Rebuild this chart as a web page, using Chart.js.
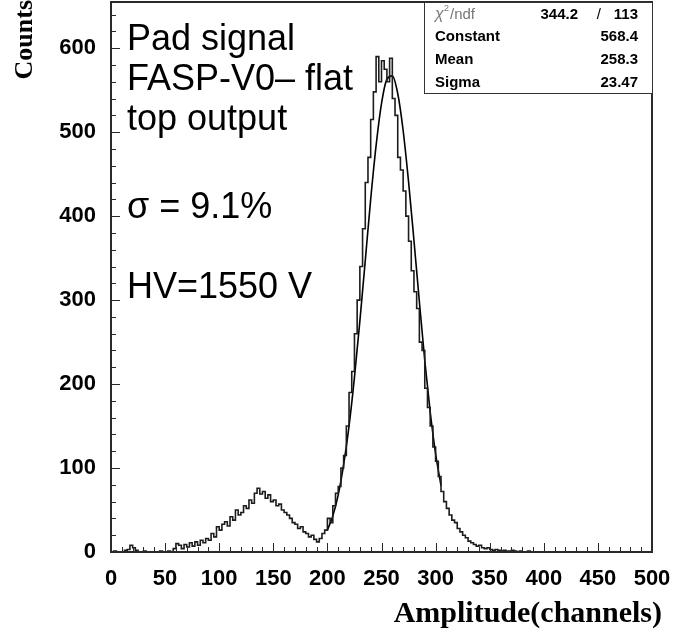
<!DOCTYPE html>
<html>
<head>
<meta charset="utf-8">
<script src="https://cdn.jsdelivr.net/npm/chart.js@4/dist/chart.umd.min.js"></script>
<style>
  html, body { margin: 0; padding: 0; background: #fff; }
  #wrap { width: 682px; height: 635px; }
</style>
</head>
<body>
<div id="wrap"><canvas id="spectrum" width="682" height="635"></canvas></div>
<script>
// histogram: counts per 2.5-channel bin, starting at channel 0
const binWidth = 2.5;
const counts = [
  0, 0, 1, 0, 0, 0, 2, 3, 8, 5, 2, 0, 0, 1, 0, 0, 0, 0, 0, 1,                 // 0-47.5
  0, 0, 1, 0, 4, 10, 8, 4, 9, 6, 11, 7, 12, 8, 14, 11, 16, 14, 22, 18,         // 50-97.5
  30, 26, 33, 36, 31, 42, 38, 50, 44, 47, 55, 52, 62, 58, 70, 76, 69, 72, 64, 68, // 100-147.5
  60, 62, 55, 57, 50, 47, 44, 40, 35, 33, 28, 30, 24, 22, 18, 20, 15, 12, 16, 22, // 150-197.5
  26, 40, 35, 55, 70, 78, 100, 115, 150, 190, 215, 260, 300, 340, 385, 440, 470, 515, 548, 590, // 200-247.5
  560, 585, 575, 560, 588, 540, 520, 470, 455, 430, 400, 370, 335, 310, 290, 250, 240, 195, 172, 150, // 250-297.5
  125, 108, 90, 72, 60, 52, 44, 38, 35, 28, 24, 20, 17, 13, 11, 9, 7, 8, 5, 4, // 300-347.5
  5, 3, 2, 3, 2, 1, 2, 1, 1, 2, 1, 0, 1, 0, 0, 1, 0, 0, 0, 0,                  // 350-397.5
  0, 0, 0, 0, 0, 0, 0, 0, 0, 0, 0, 0, 0, 0, 0, 0, 0, 0, 0, 0,                  // 400-447.5
  0, 0, 0, 0, 0, 0, 0, 0, 0, 0, 0, 0, 0, 0, 0, 0, 0, 0, 0, 0                   // 450-497.5
];

// gaussian fit curve as drawn
const fitX = [200, 205, 210, 215, 220, 225, 230, 235, 240, 245, 250, 255, 260, 265, 270, 275, 280, 285, 290, 295, 300, 305];
const fitY = [26, 43, 68, 104, 150, 208, 275, 347, 420, 484, 534, 563, 567, 546, 502, 441, 371, 298, 228, 167, 117, 79];

const statRows = [
  ['Constant', '568.4'],
  ['Mean', '258.3'],
  ['Sigma', '23.47']
];
const chi2 = '344.2';
const ndf = '113';

const notes = ['Pad signal', 'FASP-V0\u2013 flat', 'top output', '\u03c3 = 9.1%', 'HV=1550 V'];

const xMajor = 50, xMinor = 10, yMajor = 100, yMinor = 20;

const histPoints = counts.map((c, i) => ({ x: i * binWidth, y: c }));
histPoints.push({ x: counts.length * binWidth, y: counts[counts.length - 1] });
const fitPoints = fitX.map((x, i) => ({ x, y: fitY[i] }));

const sans = '"Liberation Sans", Arial, sans-serif';
const serif = '"Liberation Serif", "Times New Roman", serif';

const decorations = {
  id: 'decorations',
  afterDraw(chart) {
    const { ctx, chartArea: a, scales: { x, y } } = chart;
    ctx.save();

    // frame
    ctx.strokeStyle = '#2a2a2a';
    ctx.lineWidth = 2;
    ctx.strokeRect(a.left, a.top, a.right - a.left, a.bottom - a.top);

    // inward ticks
    ctx.lineWidth = 1;
    ctx.beginPath();
    for (let v = 0; v <= x.max; v += xMinor) {
      const px = Math.round(x.getPixelForValue(v)) + 0.5;
      const len = v % xMajor === 0 ? 9 : 5;
      ctx.moveTo(px, a.bottom);
      ctx.lineTo(px, a.bottom - len);
    }
    for (let v = 0; v <= y.max; v += yMinor) {
      const py = Math.round(y.getPixelForValue(v)) + 0.5;
      const len = v % yMajor === 0 ? 9 : 5;
      ctx.moveTo(a.left, py);
      ctx.lineTo(a.left + len, py);
    }
    ctx.stroke();

    // stats box
    const bx = 424, by = a.top, bw = a.right - 424, bh = 91;
    ctx.fillStyle = '#fff';
    ctx.fillRect(bx, by, bw, bh);
    ctx.strokeStyle = '#333';
    ctx.lineWidth = 1;
    ctx.strokeRect(bx + 0.5, by + 0.5, bw, bh);
    ctx.textBaseline = 'middle';
    ctx.fillStyle = '#777';
    ctx.textAlign = 'left';
    ctx.font = 'italic 16px ' + sans;
    ctx.fillText('\u03c7', 435, 15);
    ctx.font = '9px ' + sans;
    ctx.fillText('2', 444, 9);
    ctx.font = '15px ' + sans;
    ctx.fillText('/ndf', 450, 15);
    ctx.fillStyle = '#000';
    ctx.font = 'bold 15px ' + sans;
    ctx.textAlign = 'right';
    ctx.fillText(chi2, 578, 15);
    ctx.font = '15px ' + sans;
    ctx.fillText('/', 601, 15);
    ctx.font = 'bold 15px ' + sans;
    ctx.fillText(ndf, 638, 15);
    statRows.forEach((r, i) => {
      const ry = 37 + i * 23;
      ctx.textAlign = 'left';
      ctx.fillText(r[0], 435, ry);
      ctx.textAlign = 'right';
      ctx.fillText(r[1], 638, ry);
    });

    // annotations
    ctx.textAlign = 'left';
    ctx.textBaseline = 'alphabetic';
    ctx.font = '36px ' + sans;
    const baselines = [50, 90, 130, 218, 298];
    notes.forEach((t, i) => ctx.fillText(t, 127, baselines[i]));

    // axis titles
    ctx.font = 'bold 30px ' + serif;
    ctx.textAlign = 'right';
    ctx.fillText('Amplitude(channels)', 662, 622);
    ctx.font = 'bold 26px ' + serif;
    ctx.translate(32, 0);
    ctx.rotate(-Math.PI / 2);
    ctx.fillText('Counts', 0, 0);
    ctx.restore();
  }
};

new Chart(document.getElementById('spectrum').getContext('2d'), {
  type: 'line',
  data: {
    datasets: [
      {
        label: 'Amplitude',
        data: histPoints,
        stepped: 'after',
        borderColor: '#1c1c1c',
        borderWidth: 1.6,
        pointRadius: 0,
        fill: false
      },
      {
        label: 'Gaussian fit',
        data: fitPoints,
        borderColor: '#000',
        borderWidth: 1.6,
        pointRadius: 0,
        cubicInterpolationMode: 'monotone',
        fill: false
      }
    ]
  },
  options: {
    responsive: false,
    animation: false,
    layout: { padding: { left: 0, right: 30, top: 2, bottom: 0 } },
    plugins: {
      legend: { display: false },
      tooltip: { enabled: false }
    },
    scales: {
      x: {
        type: 'linear',
        min: 0,
        max: 500,
        grid: { display: false, drawTicks: false },
        border: { display: false },
        ticks: {
          stepSize: xMajor,
          autoSkip: false,
          maxRotation: 0,
          padding: 14,
          color: '#000',
          font: { family: sans, weight: 'bold', size: 22 }
        },
        afterFit(s) {
          s.height = 83;
          s.paddingLeft = 0;
          s.paddingRight = 0;
        }
      },
      y: {
        min: 0,
        max: 655,
        grid: { display: false, drawTicks: false },
        border: { display: false },
        ticks: {
          stepSize: yMajor,
          padding: 15,
          color: '#000',
          font: { family: sans, weight: 'bold', size: 22 },
          callback: v => (v % yMajor === 0 ? v : '')
        },
        afterFit(s) {
          s.width = 111;
          s.paddingTop = 0;
          s.paddingBottom = 0;
        }
      }
    }
  },
  plugins: [decorations]
});
</script>
</body>
</html>
